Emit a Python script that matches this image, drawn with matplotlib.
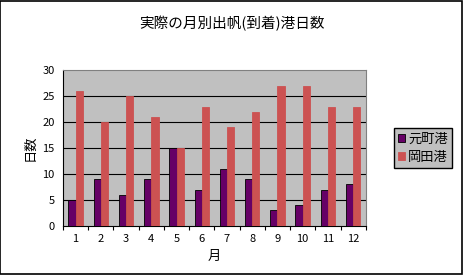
import numpy as np
import matplotlib.pyplot as plt

plt.rcParams['font.family'] = ['Noto Sans CJK JP', 'DejaVu Sans']

# データ
months = ['1', '2', '3', '4', '5', '6', '7', '8', '9', '10', '11', '12']
motomachi = [5, 9, 6, 9, 15, 7, 11, 9, 3, 4, 7, 8]
okada = [26, 20, 25, 21, 15, 23, 19, 22, 27, 27, 23, 23]

fig = plt.figure(figsize=(4.63, 2.75), dpi=100)
fig.patch.set_facecolor('white')
fig.patches.append(plt.Rectangle((0.001, 0.002), 0.997, 0.995, transform=fig.transFigure,
                                 fill=False, edgecolor='black', linewidth=1.2))

ax = fig.add_axes([0.136, 0.178, 0.654, 0.567])
ax.set_facecolor('#c0c0c0')

x = np.arange(1, len(months) + 1)
w = 0.286
ax.bar(x - w / 2, motomachi, w, color='#660066', edgecolor='black', linewidth=0.6,
       label='元町港', zorder=3)
ax.bar(x + w / 2, okada, w, color='#cc5252', edgecolor='#cc5252', linewidth=0.6,
       label='岡田港', zorder=3)

ax.set_xlim(0.5, 12.5)
ax.set_ylim(0, 30)
ax.set_yticks(range(0, 31, 5))
ax.set_xticks(x)
ax.set_xticklabels(months)
ax.set_xticks(np.arange(0.5, 13, 1), minor=True)
ax.tick_params(axis='x', which='major', length=0, labelsize=8, pad=6)
ax.tick_params(axis='x', which='minor', length=3, direction='out', width=0.8)
ax.tick_params(axis='y', length=0, labelsize=8, pad=6)

for yv in range(5, 30, 5):
    ax.axhline(yv, color='black', linewidth=0.8, zorder=1)

ax.spines['left'].set_color('black')
ax.spines['bottom'].set_color('black')
ax.spines['top'].set_color('#808080')
ax.spines['right'].set_color('#808080')

ax.set_xlabel('月', fontsize=9.5, labelpad=4)
ax.set_ylabel('日数', fontsize=9.5, labelpad=4)
fig.text(0.5, 0.915, '実際の月別出帆(到着)港日数', ha='center', va='center', fontsize=10.5)

leg = ax.legend(loc='center left', bbox_to_anchor=(1.07, 0.5), fontsize=9.5,
                frameon=True, fancybox=False, handlelength=0.6, handleheight=0.6,
                handletextpad=0.2, borderpad=0.3, labelspacing=0.4)
leg.get_frame().set_facecolor('#c0c0c0')
leg.get_frame().set_edgecolor('black')
leg.get_frame().set_alpha(1)

fig.savefig('out.png', dpi=100)
